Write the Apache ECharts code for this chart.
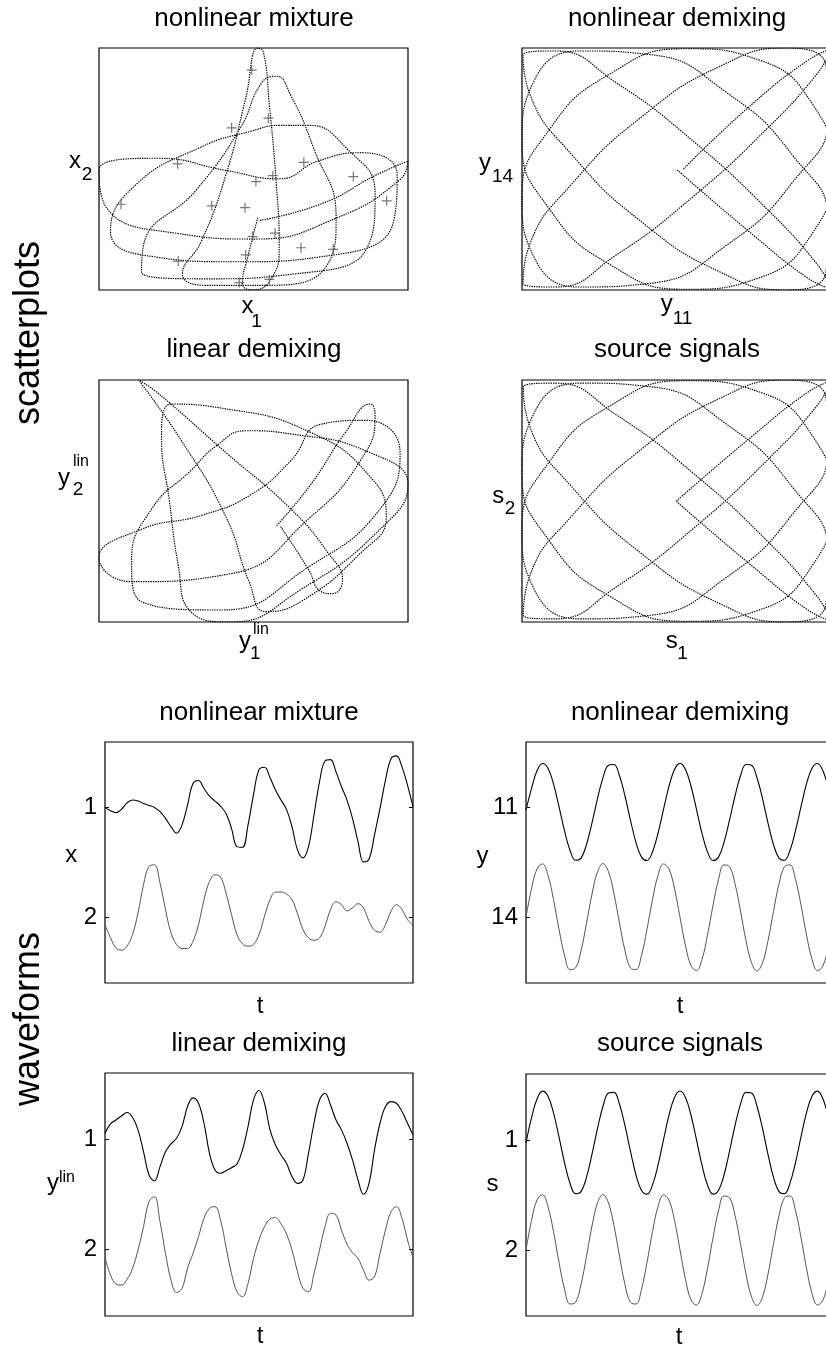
<!DOCTYPE html>
<html>
<head>
<meta charset="utf-8">
<script src="https://cdn.jsdelivr.net/npm/echarts@6/dist/echarts.min.js"></script>
<style>
html, body { margin: 0; padding: 0; background: #ffffff; }
#chart { width: 826px; height: 1349px; }
</style>
</head>
<body>
<div id="chart"></div>
<script>
// ---------- data (sample index along t) ----------
const tIdx = [0,1,2,3,4,5,6,7,8,9,10,11,12,13,14,15,16,17,18,19,20,21,22,23,24,25,26,27,28,29,30,31,32,33,34,35,36,37,38,39,40,41,42,43,44,45,46,47,48,49,50,51,52,53,54,55,56];

// nonlinear mixture x1, x2 (deviation from their trace level, up = positive)
const x1 = [0.003,-0.027,-0.045,-0.015,0.045,0.070,0.061,0.039,0.021,0.003,-0.036,-0.097,-0.173,-0.233,-0.158,0.024,0.221,0.248,0.176,0.106,0.061,0.015,-0.052,-0.188,-0.355,-0.361,-0.158,0.120,0.348,0.370,0.276,0.161,0.070,-0.015,-0.173,-0.385,-0.458,-0.355,-0.067,0.236,0.427,0.439,0.327,0.191,0.070,-0.097,-0.309,-0.494,-0.470,-0.248,-0.006,0.252,0.448,0.473,0.373,0.206,0.009];
const x2 = [-0.067,-0.188,-0.279,-0.300,-0.264,-0.158,0.039,0.297,0.464,0.479,0.312,0.070,-0.142,-0.248,-0.285,-0.285,-0.218,-0.067,0.161,0.327,0.388,0.367,0.221,0.024,-0.158,-0.242,-0.264,-0.248,-0.158,0.009,0.161,0.230,0.230,0.212,0.161,0.033,-0.112,-0.188,-0.209,-0.188,-0.082,0.070,0.142,0.115,0.058,0.085,0.124,0.085,-0.036,-0.118,-0.136,-0.067,0.055,0.115,0.070,-0.021,-0.076];

// linear demixing
const ylin1 = [0.054,0.139,0.175,0.211,0.242,0.199,0.085,-0.112,-0.323,-0.378,-0.248,-0.112,-0.042,0.009,0.115,0.296,0.375,0.326,0.145,-0.127,-0.278,-0.308,-0.284,-0.257,-0.224,-0.097,0.115,0.356,0.441,0.326,0.085,-0.051,-0.142,-0.218,-0.338,-0.399,-0.369,-0.127,0.145,0.356,0.417,0.311,0.175,0.085,-0.036,-0.187,-0.369,-0.498,-0.399,-0.097,0.145,0.296,0.341,0.326,0.251,0.145,0.039];
const ylin2 = [-0.069,-0.230,-0.311,-0.320,-0.269,-0.169,-0.003,0.208,0.435,0.480,0.254,-0.033,-0.275,-0.387,-0.350,-0.169,-0.033,0.118,0.284,0.375,0.390,0.269,0.027,-0.215,-0.381,-0.426,-0.305,-0.079,0.088,0.208,0.278,0.290,0.233,0.142,-0.003,-0.199,-0.350,-0.381,-0.215,-0.003,0.208,0.329,0.314,0.178,0.051,-0.027,-0.079,-0.184,-0.275,-0.245,-0.033,0.178,0.344,0.390,0.284,0.088,-0.069];

// nonlinear demixing
const y11 = [-0.020,0.175,0.337,0.404,0.361,0.218,0.010,-0.210,-0.388,-0.479,-0.460,-0.336,-0.139,0.083,0.275,0.388,0.394,0.292,0.107,-0.115,-0.318,-0.451,-0.482,-0.403,-0.233,-0.015,0.197,0.350,0.405,0.349,0.196,-0.016,-0.234,-0.403,-0.482,-0.451,-0.317,-0.114,0.107,0.292,0.394,0.388,0.274,0.083,-0.140,-0.337,-0.460,-0.479,-0.388,-0.210,0.010,0.218,0.361,0.404,0.336,0.175,-0.040];
const y14 = [0,0.261,0.441,0.487,0.383,0.162,-0.109,-0.346,-0.478,-0.463,-0.306,-0.055,0.212,0.415,0.490,0.415,0.213,-0.054,-0.305,-0.463,-0.478,-0.347,-0.110,0.161,0.383,0.487,0.441,0.261,0.000,-0.260,-0.441,-0.487,-0.384,-0.163,0.108,0.346,0.478,0.463,0.306,0.056,-0.212,-0.415,-0.490,-0.416,-0.214,0.054,0.305,0.462,0.478,0.347,0.110,-0.161,-0.383,-0.487,-0.442,-0.262,-0.001];

// source signals
const s1 = [-0.025,0.202,0.373,0.444,0.398,0.247,0.028,-0.205,-0.393,-0.488,-0.469,-0.338,-0.129,0.105,0.307,0.427,0.433,0.325,0.130,-0.104,-0.318,-0.459,-0.492,-0.408,-0.229,0.002,0.226,0.387,0.445,0.386,0.225,0.001,-0.229,-0.409,-0.492,-0.459,-0.318,-0.103,0.131,0.326,0.433,0.427,0.307,0.105,-0.130,-0.339,-0.469,-0.488,-0.392,-0.205,0.028,0.248,0.398,0.444,0.373,0.202,-0.025];
const s2 = [0,0.268,0.454,0.501,0.394,0.167,-0.112,-0.356,-0.491,-0.476,-0.314,-0.057,0.218,0.427,0.504,0.427,0.219,-0.056,-0.314,-0.476,-0.491,-0.357,-0.113,0.166,0.394,0.501,0.454,0.269,0.001,-0.268,-0.454,-0.501,-0.395,-0.167,0.111,0.356,0.491,0.476,0.315,0.057,-0.218,-0.426,-0.504,-0.427,-0.220,0.055,0.313,0.475,0.491,0.357,0.113,-0.165,-0.394,-0.500,-0.455,-0.269,-0.002];

// '+' markers in the nonlinear mixture scatter (x1, x2)
const plusX1 = [-0.016,0.036,-0.079,-0.248,0.147,-0.003,0.050,0.302,-0.425,-0.141,-0.037,0.406,-0.013,0.057,0.138,0.239,-0.035,-0.246,-0.055,0.039];
const plusX2 = [0.408,0.253,0.222,0.106,0.111,0.049,0.068,0.065,-0.024,-0.029,-0.035,-0.013,-0.128,-0.117,-0.164,-0.169,-0.187,-0.207,-0.276,-0.266];

// waveform trace levels / tick labels
const waveLevels = [1, 2];
const waveTickNames = [['1','2'], ['11','14'], ['1','2'], ['1','2']];

// ---------- chart ----------
const FONT = "'Liberation Sans', Arial, Helvetica, sans-serif";
const chart = echarts.init(document.getElementById('chart'), null, { renderer: 'canvas' });

const gridBoxes = [
  { left: 99,  top: 48,   width: 309, height: 242 },
  { left: 522, top: 48,   width: 310, height: 242 },
  { left: 99,  top: 380,  width: 309, height: 242 },
  { left: 522, top: 380,  width: 310, height: 242 },
  { left: 105, top: 742,  width: 308, height: 241 },
  { left: 526, top: 742,  width: 308, height: 241 },
  { left: 105, top: 1073, width: 308, height: 243 },
  { left: 526, top: 1074, width: 308, height: 242 }
];
const grids = gridBoxes.map(b => Object.assign({
  show: true, borderColor: '#000', borderWidth: 1.2, backgroundColor: 'rgba(0,0,0,0)',
  containLabel: false, outerBoundsMode: 'none'
}, b));

const xAxes = [], yAxes = [];
for (let g = 0; g < 4; g++) {
  xAxes.push({ gridIndex: g, type: 'value', min: 'dataMin', max: 'dataMax', scale: true, show: false });
  yAxes.push({ gridIndex: g, type: 'value', min: 'dataMin', max: 'dataMax', scale: true, show: false });
}
for (let g = 4; g < 8; g++) {
  xAxes.push({ gridIndex: g, type: 'value', min: tIdx[0], max: tIdx[tIdx.length - 1], show: false });
}
for (let g = 4; g < 8; g++) {
  const names = waveTickNames[g - 4];
  yAxes.push({
    gridIndex: g, type: 'value', inverse: true, min: 0.4, max: 2.6, position: 'left',
    axisLine: { show: false }, splitLine: { show: false },
    axisTick: { show: true, inside: true, length: 4, customValues: waveLevels, lineStyle: { color: '#000', width: 1 } },
    axisLabel: { show: true, customValues: waveLevels, margin: 8, fontSize: 24, color: '#000', fontFamily: FONT,
      formatter: v => names[waveLevels.indexOf(Math.round(v))] }
  });
}
for (let g = 4; g < 8; g++) {
  yAxes.push({
    gridIndex: g, type: 'value', inverse: true, min: 0.4, max: 2.6, position: 'right',
    axisLine: { show: false }, splitLine: { show: false },
    axisTick: { show: true, inside: true, length: 4, customValues: waveLevels, lineStyle: { color: '#000', width: 1 } },
    axisLabel: { show: false }
  });
}

const dotted = { color: '#000', width: 1.15, type: [1.4, 1] };
function scatterCurve(g, a, b) {
  return { type: 'line', xAxisIndex: g, yAxisIndex: g, data: a.map((v, i) => [v, b[i]]),
    smooth: 0.5, symbol: 'none', lineStyle: dotted, silent: true, z: 2 };
}
function wave(g, arr, level, color, width) {
  return { type: 'line', xAxisIndex: g, yAxisIndex: g, data: tIdx.map((t, i) => [t, level - arr[i]]),
    smooth: 0.4, symbol: 'none', lineStyle: { color: color, width: width }, silent: true };
}

const series = [
  scatterCurve(0, x1, x2),
  { type: 'scatter', xAxisIndex: 0, yAxisIndex: 0, data: plusX1.map((v, i) => [v, plusX2[i]]),
    symbol: 'path://M4.4,0H5.6V4.4H10V5.6H5.6V10H4.4V5.6H0V4.4H4.4Z', symbolSize: 10,
    itemStyle: { color: '#555' }, silent: true, z: 3 },
  scatterCurve(1, y11, y14),
  scatterCurve(2, ylin1, ylin2),
  scatterCurve(3, s1, s2),
  wave(4, x1, waveLevels[0], '#000', 1.1), wave(4, x2, waveLevels[1], '#555', 1),
  wave(5, y11, waveLevels[0], '#000', 1.1), wave(5, y14, waveLevels[1], '#555', 1),
  wave(6, ylin1, waveLevels[0], '#000', 1.1), wave(6, ylin2, waveLevels[1], '#555', 1),
  wave(7, s1, waveLevels[0], '#000', 1.1), wave(7, s2, waveLevels[1], '#555', 1)
];

function T(text, x, y, size, extra) {
  return Object.assign({ type: 'text', x: x, y: y, silent: true,
    style: { text: text, fontSize: size, fontFamily: FONT, fill: '#000', align: 'center', verticalAlign: 'middle' } }, extra || {});
}
const TS = 26, AX = 24, SUB = 19, SUP = 16;
const texts = [
  // titles
  T('nonlinear mixture', 254, 19, TS), T('nonlinear demixing', 677, 19, TS),
  T('linear demixing', 254, 350, TS), T('source signals', 677, 350, TS),
  T('nonlinear mixture', 259, 713, TS), T('nonlinear demixing', 680, 713, TS),
  T('linear demixing', 259, 1044, TS), T('source signals', 680, 1044, TS),
  // row labels
  T('scatterplots', 29.5, 333, 36, { rotation: Math.PI / 2 }),
  T('waveforms', 29.5, 1019, 36, { rotation: Math.PI / 2 }),
  // scatter axis names
  T('x', 247.5, 306.6, AX), T('1', 256.5, 321.5, SUB),
  T('x', 75, 161.6, AX), T('2', 87, 174.5, SUB),
  T('y', 666.7, 304.6, AX), T('11', 682.5, 318.3, SUB),
  T('y', 485, 163.1, AX), T('14', 502.5, 176.3, SUB),
  T('y', 245, 641.6, AX), T('lin', 261, 629.4, SUP), T('1', 255.3, 653.3, SUB),
  T('y', 64, 478.6, AX), T('lin', 81, 462, SUP), T('2', 78, 490, SUB),
  T('s', 671.7, 641.6, AX), T('1', 682.5, 653.3, SUB),
  T('s', 498.3, 496.6, AX), T('2', 510, 508.3, SUB),
  // waveform axis names
  T('x', 71.3, 855, AX), T('t', 260, 1006.6, AX),
  T('y', 482.5, 856.6, AX), T('t', 680, 1006.6, AX),
  T('y', 53, 1183.6, AX), T('lin', 67, 1177.4, SUP), T('t', 260, 1336.6, AX),
  T('s', 492.5, 1184.6, AX), T('t', 679, 1337, AX)
];

chart.setOption({
  backgroundColor: '#ffffff',
  animation: false,
  grid: grids,
  xAxis: xAxes,
  yAxis: yAxes,
  series: series,
  graphic: { elements: texts }
});
</script>
</body>
</html>
